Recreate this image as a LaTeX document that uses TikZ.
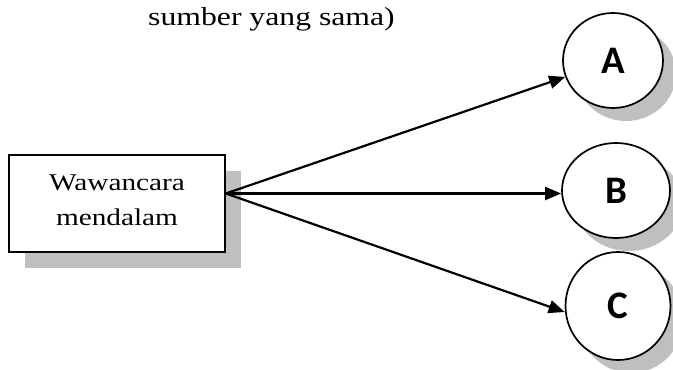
\documentclass[tikz,border=0pt]{standalone}
\usepackage{fontspec}
\setmainfont{Liberation Serif}[FakeStretch=1.22]
\newfontfamily\letterfont{Carlito}
\usetikzlibrary{shapes.geometric, shadows, arrows.meta}

\begin{document}
\begin{tikzpicture}[
        x=1pt, y=-1pt,
        srcbox/.style={draw, line width=1.6pt, fill=white, minimum width=216pt, minimum height=97pt,
            align=center, font=\fontsize{24}{35}\selectfont, text depth=6pt,
            drop shadow={opacity=1, fill=black!25, shadow xshift=16pt, shadow yshift=-16pt}},
        target/.style={ellipse, draw, line width=1.7pt, fill=white, inner sep=0pt,
            font=\letterfont\bfseries\fontsize{39}{42}\selectfont,
            drop shadow={opacity=1, fill=black!25, shadow xshift=13pt, shadow yshift=-13pt}},
        link/.style={line width=2.2pt, -{Triangle[length=16pt, width=13pt]}}
    ]
        \useasboundingbox (0,0) rectangle (673,370);

        % Heading line (end of the caption above)
        \node[anchor=base, font=\fontsize{26}{30}\selectfont] (caption) at (271.5,25) {sumber yang sama)};

        % Source box
        \node[srcbox] (wawancara) at (117,203.5) {Wawancara\\mendalam};
        \coordinate (src) at ([yshift=10pt]wawancara.east);

        % Informants A, B, C
        \node[target, minimum width=100pt, minimum height=95pt] (A) at (613,60.5) {A};
        \node[target, minimum width=108pt, minimum height=95pt] (B) at (616,190.5) {B};
        \node[target, minimum width=105pt, minimum height=108pt] (C) at (618,306) {C};

        % Arrows from the box to each informant
        \draw[link] (src) -- (A);
        \draw[link] (src) -- (src -| B.west);
        \draw[link] (src) -- ([yshift=-6pt]C.west);
    \end{tikzpicture}
\end{document}
